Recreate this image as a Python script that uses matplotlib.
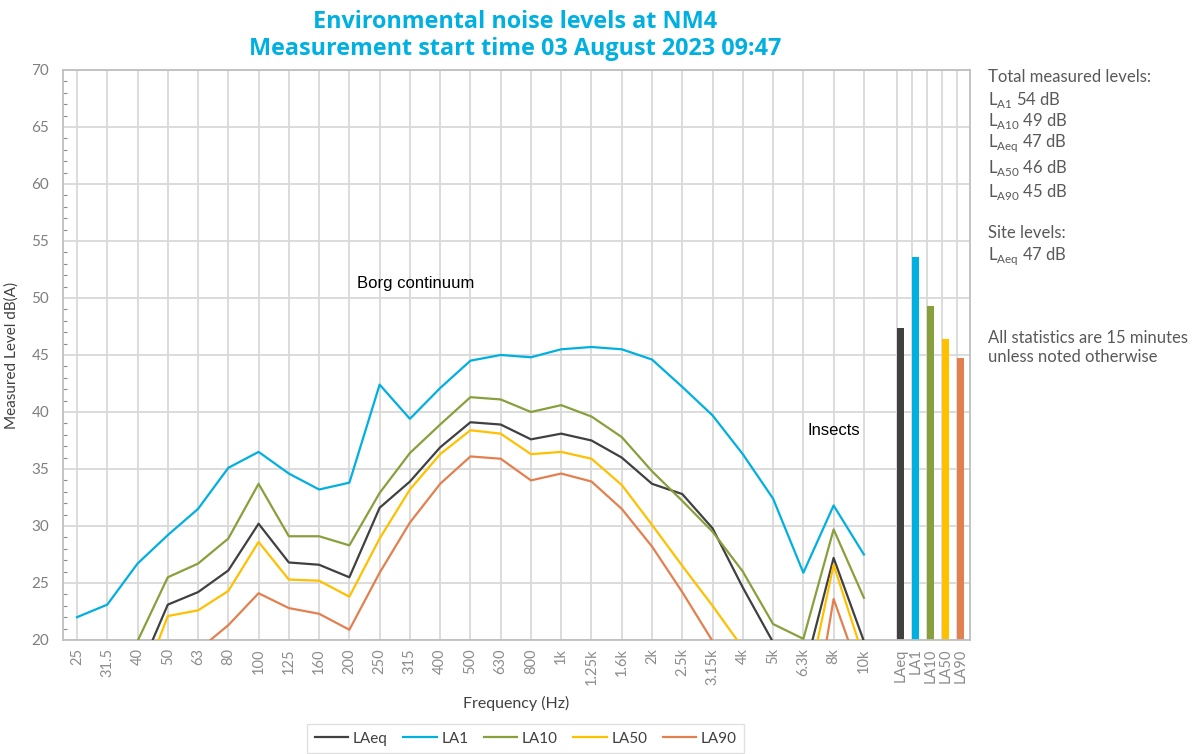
import matplotlib.pyplot as plt
from matplotlib.ticker import MultipleLocator
import numpy as np

plt.rcParams['font.family'] = ['Lato', 'DejaVu Sans']
plt.rcParams['mathtext.fontset'] = 'custom'
plt.rcParams['mathtext.rm'] = 'Lato'

# one-third octave bands
bands = ['25', '31.5', '40', '50', '63', '80', '100', '125', '160', '200',
         '250', '315', '400', '500', '630', '800', '1k', '1.25k', '1.6k', '2k',
         '2.5k', '3.15k', '4k', '5k', '6.3k', '8k', '10k']

laeq = [14.0, 15.0, 16.9, 23.1, 24.2, 26.1, 30.2, 26.8, 26.6, 25.5,
        31.6, 33.9, 36.9, 39.1, 38.9, 37.6, 38.1, 37.5, 36.0, 33.7,
        32.8, 29.8, 24.6, 19.8, 16.9, 27.2, 19.9]
la1 = [22.0, 23.1, 26.7, 29.2, 31.5, 35.1, 36.5, 34.6, 33.2, 33.8,
       42.4, 39.4, 42.1, 44.5, 45.0, 44.8, 45.5, 45.7, 45.5, 44.6,
       42.2, 39.7, 36.3, 32.4, 25.9, 31.8, 27.5]
la10 = [15.0, 16.5, 19.9, 25.5, 26.7, 28.9, 33.7, 29.1, 29.1, 28.3,
        32.9, 36.4, 38.9, 41.3, 41.1, 40.0, 40.6, 39.6, 37.8, 34.8,
        32.2, 29.5, 26.0, 21.4, 20.1, 29.7, 23.7]
la50 = [12.0, 13.0, 15.1, 22.1, 22.6, 24.3, 28.6, 25.3, 25.2, 23.8,
        28.9, 33.2, 36.3, 38.4, 38.1, 36.3, 36.5, 35.9, 33.6, 30.1,
        26.5, 23.0, 19.3, 15.0, 14.1, 26.6, 18.4]
la90 = [11.0, 12.0, 14.0, 17.0, 19.1, 21.3, 24.1, 22.8, 22.3, 20.9,
        25.9, 30.3, 33.7, 36.1, 35.9, 34.0, 34.6, 33.9, 31.5, 28.2,
        24.2, 19.9, 15.0, 10.0, 7.9, 23.6, 16.1]

# overall levels, shown as bars at the right
total_names = ['LAeq', 'LA1', 'LA10', 'LA50', 'LA90']
total_levels = [47.4, 53.6, 49.3, 46.4, 44.7]

series = [('LAeq', laeq, '#404040'),
          ('LA1', la1, '#00B0E0'),
          ('LA10', la10, '#88A03C'),
          ('LA50', la50, '#FFC000'),
          ('LA90', la90, '#E2804F')]

fig = plt.figure(figsize=(11.92, 7.54), dpi=100)
ax = fig.add_axes([0.0529, 0.1512, 0.7607, 0.7560])

x = np.arange(len(bands))
for name, vals, col in series:
    ax.plot(x, vals, color=col, lw=1.6, label=name, zorder=3)

bar_x = len(bands) + 0.2 + 0.5 * np.arange(len(total_names))
# gridlines: one per band, and one at the left edge of each bar
for gx in list(x) + list(bar_x - 0.12):
    ax.axvline(gx, color='#D9D9D9', lw=1.3, zorder=0)
ax.bar(bar_x, total_levels, width=0.24, bottom=0,
       color=[c for _, _, c in series], zorder=2)

ax.set_xlim(-0.46, len(bands) + 2.5)
ax.set_ylim(20, 70)
ax.set_xticks(list(x) + list(bar_x))
ax.set_xticklabels(bands + total_names, rotation=90, fontsize=10.5, color='#8C8C8C')
ax.tick_params(axis='x', length=0, pad=6)

ax.yaxis.set_major_locator(MultipleLocator(5))
ax.yaxis.set_minor_locator(MultipleLocator(1))
ax.grid(axis='y', which='major', color='#D9D9D9', lw=1.3, zorder=0)
ax.tick_params(axis='y', which='major', direction='in', length=0,
               labelsize=11, labelcolor='#7F7F7F', pad=10)
ax.tick_params(axis='y', which='minor', direction='in', length=3,
               color='#8C8C8C', width=0.8)
ax.set_axisbelow(True)
for s in ax.spines.values():
    s.set_color('#BFBFBF')
    s.set_linewidth(1.3)

ax.set_xlabel('Frequency (Hz)', fontsize=11.5, color='#404040', labelpad=8)
ax.set_ylabel('Measured Level dB(A)', fontsize=11, color='#404040', labelpad=9)

ax.text(9.26, 51.3, 'Borg continuum', family='Liberation Sans', fontsize=12,
        color='black', va='center', ha='left')
ax.text(24.15, 38.4, 'Insects', family='Liberation Sans', fontsize=12,
        color='black', va='center', ha='left')

fig.text(0.432, 0.987, 'Environmental noise levels at NM4\nMeasurement start time 03 August 2023 09:47',
         ha='center', va='top', fontsize=16.8, fontweight='bold', color='#00B0E0',
         family='Open Sans', linespacing=1.2)

tx = 0.829
tcol = '#595959'
side = [(0.898, 'Total measured levels:'),
        (0.868, r'L$_{\mathrm{A1}}$ 54 dB'),
        (0.839, r'L$_{\mathrm{A10}}$ 49 dB'),
        (0.810, r'L$_{\mathrm{Aeq}}$ 47 dB'),
        (0.777, r'L$_{\mathrm{A50}}$ 46 dB'),
        (0.745, r'L$_{\mathrm{A90}}$ 45 dB'),
        (0.691, 'Site levels:'),
        (0.661, r'L$_{\mathrm{Aeq}}$ 47 dB'),
        (0.552, 'All statistics are 15 minutes'),
        (0.527, 'unless noted otherwise')]
for yy, s in side:
    fig.text(tx, yy, s, fontsize=12, color=tcol, va='center', ha='left')

leg = fig.legend(loc='upper center', bbox_to_anchor=(0.441, 0.05), ncol=5,
                 frameon=True, fontsize=11, handlelength=2.2, columnspacing=1.0,
                 handletextpad=0.3, fancybox=False, borderpad=0.5)
leg.get_frame().set_edgecolor('#D9D9D9')
for t in leg.get_texts():
    t.set_color('#404040')

fig.savefig('out.png', dpi=100)
